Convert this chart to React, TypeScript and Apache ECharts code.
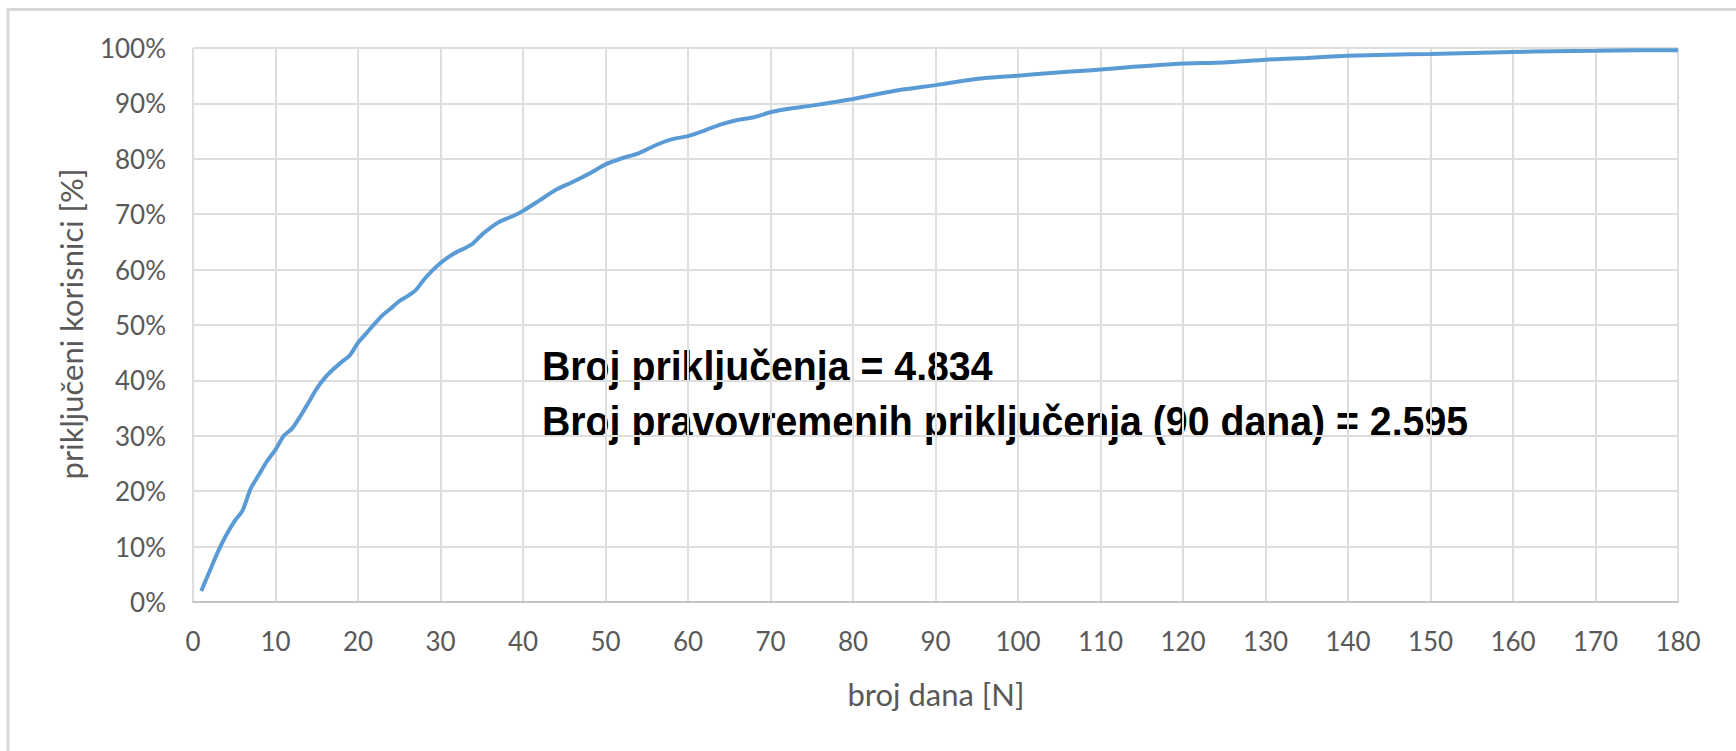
import React, { useEffect, useRef } from "react";
import * as echarts from "echarts";

const days = [1, 2, 3, 4, 5, 6, 7, 8, 9, 10, 11, 12, 13, 14, 15, 16, 17, 18, 19, 20,
  21, 22, 23, 24, 25, 26, 27, 28, 29, 30, 31, 32, 33, 34, 35, 36, 37, 38, 39, 40,
  42, 44, 46, 48, 50, 52, 54, 56, 58, 60, 62, 64, 66, 68, 70, 72, 75, 78, 80, 83,
  86, 90, 93, 96, 100, 104, 108, 110, 114, 118, 120, 125, 130, 135, 140, 145, 150,
  155, 160, 165, 170, 175, 180];
const percents = [2.0, 5.5, 9.0, 12.0, 14.5, 16.5, 20.5, 23.0, 25.5, 27.5, 30.0, 31.3, 33.5, 36.0, 38.5, 40.5, 42.0, 43.3, 44.5, 46.8,
  48.5, 50.2, 51.8, 53.0, 54.3, 55.2, 56.3, 58.2, 59.8, 61.2, 62.3, 63.2, 63.9, 64.8, 66.3, 67.5, 68.5, 69.2, 69.8, 70.6,
  72.5, 74.4, 75.8, 77.3, 79.0, 80.1, 81.0, 82.4, 83.5, 84.1, 85.1, 86.2, 87.0, 87.5, 88.4, 89.0, 89.6, 90.3, 90.8, 91.7,
  92.5, 93.3, 94.0, 94.6, 95.0, 95.5, 95.9, 96.1, 96.6, 97.0, 97.2, 97.4, 97.9, 98.2, 98.6, 98.8, 98.9,
  99.1, 99.3, 99.4, 99.5, 99.6, 99.6];

const xAxisTitle = "broj dana [N]";
const yAxisTitle = "priključeni korisnici [%]";
const noteLines = ["Broj priključenja = 4.834", "Broj pravovremenih priključenja (90 dana) = 2.595"];

export default function App() {
  const ref = useRef<HTMLDivElement>(null);
  useEffect(() => {
    if (!ref.current) return;
    const chart = echarts.init(ref.current, null, { renderer: "svg" });
    const axisFont = "Lato, 'Open Sans', sans-serif";
    const grey = "#595959";
    chart.setOption({
      animation: false,
      backgroundColor: "#ffffff",
      grid: { left: 193, right: 58, top: 48, bottom: 149, containLabel: false },
      xAxis: {
        type: "value",
        min: 0,
        max: 180,
        interval: 10,
        axisLine: { show: true, lineStyle: { color: "#c4c4c4", width: 2 } },
        axisTick: { show: false },
        splitLine: { show: true, lineStyle: { color: "#dedede", width: 2 } },
        axisLabel: { color: grey, fontSize: 26, fontFamily: axisFont, margin: 26 },
      },
      yAxis: {
        type: "value",
        min: 0,
        max: 100,
        interval: 10,
        axisLine: { show: false },
        axisTick: { show: false },
        splitLine: { show: true, lineStyle: { color: "#dedede", width: 2 } },
        axisLabel: { color: grey, fontSize: 26, fontFamily: axisFont, margin: 27, formatter: "{value}%" },
      },
      series: [
        {
          type: "line",
          data: days.map((d, i) => [d, percents[i]]),
          showSymbol: false,
          smooth: 0.2,
          lineStyle: { color: "#5B9BD5", width: 4 },
        },
      ],
      graphic: [
        {
          type: "rect",
          silent: true,
          shape: { x: 8, y: 9.5, width: 1800, height: 800 },
          style: { fill: "none", stroke: "#d9d9d9", lineWidth: 3 },
        },
        {
          type: "text",
          x: 71,
          y: 324,
          rotation: Math.PI / 2,
          style: {
            text: yAxisTitle,
            fill: grey,
            font: "31px Lato, 'Open Sans', sans-serif",
            align: "center",
            verticalAlign: "middle",
          },
        },
        {
          type: "text",
          x: 936,
          y: 694,
          style: {
            text: xAxisTitle,
            fill: grey,
            font: "31px Lato, 'Open Sans', sans-serif",
            align: "center",
            verticalAlign: "middle",
          },
        },
        {
          type: "text",
          x: 542,
          y: 367,
          scaleX: 0.935,
          style: {
            text: noteLines[0],
            fill: "#000000",
            font: "bold 42px 'Liberation Sans', Arial, sans-serif",
            align: "left",
            verticalAlign: "middle",
          },
        },
        {
          type: "text",
          x: 542,
          y: 422,
          scaleX: 0.935,
          style: {
            text: noteLines[1],
            fill: "#000000",
            font: "bold 42px 'Liberation Sans', Arial, sans-serif",
            align: "left",
            verticalAlign: "middle",
          },
        },
      ],
    });
    return () => chart.dispose();
  }, []);
  return <div ref={ref} style={{ position: "absolute", left: 0, top: 0, width: 1736, height: 751 }} />;
}
